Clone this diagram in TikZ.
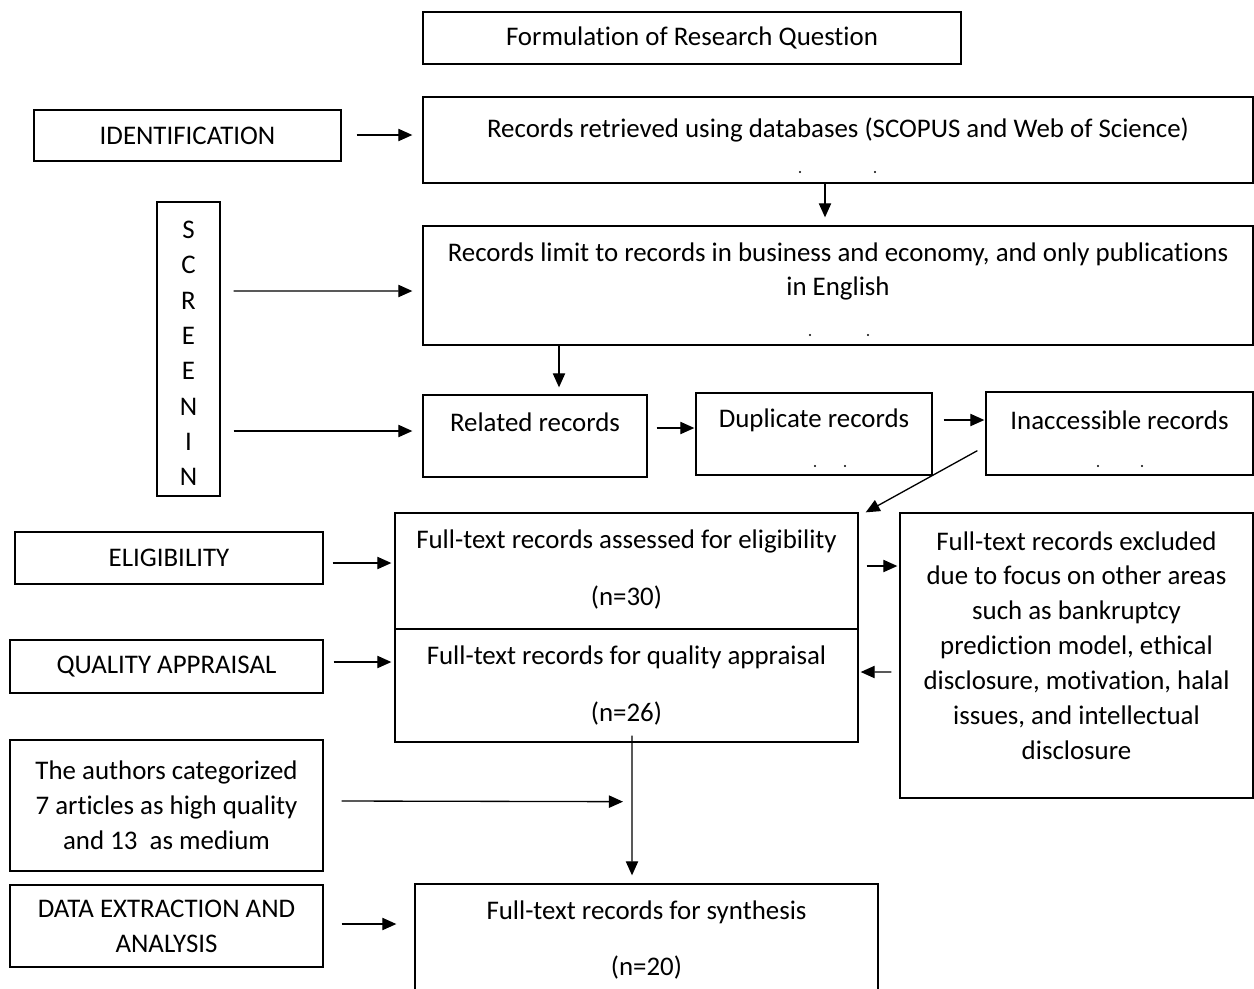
\documentclass[tikz,border=0pt]{standalone}
\usepackage{fontspec}
\setmainfont[Ligatures=NoCommon]{Carlito}
\usetikzlibrary{arrows.meta}
\usetikzlibrary{calc}
\newcommand{\pxu}{0.02cm}
\tikzset{
  stagebox/.style={draw, line width=0.75pt, inner sep=0pt},
  flowarrow/.style={line width=0.75pt, arrows={-Triangle[length=8pt,width=7pt]}},
  strayDot/.style={fill=black}
}

\begin{document}
\begin{tikzpicture}[x=\pxu, y=-\pxu, font=\fontsize{15.3}{19.85}\selectfont]
\clip (0,0) rectangle (1254,988);
% boxes
\node[stagebox, minimum width=538*\pxu, minimum height=52*\pxu] (form) at (692,38) {Formulation of Research Question};
\node[stagebox, minimum width=307*\pxu, minimum height=51*\pxu] (ident) at (187.5,135.5) {IDENTIFICATION};
\node[stagebox, minimum width=830*\pxu, minimum height=86*\pxu] (retr) at (838,140) {};
\node[stagebox, minimum width=63*\pxu, minimum height=294*\pxu] (screen) at (188.5,349) {};
\node[stagebox, minimum width=830*\pxu, minimum height=119*\pxu] (limit) at (838,285.5) {};
\node[stagebox, minimum width=224*\pxu, minimum height=82*\pxu] (related) at (535,436) {};
\node[stagebox, minimum width=236*\pxu, minimum height=82*\pxu] (dup) at (814,434) {};
\node[stagebox, minimum width=267*\pxu, minimum height=83*\pxu] (inacc) at (1119.5,433.5) {};
\node[stagebox, minimum width=463*\pxu, minimum height=116*\pxu] (elig) at (626.5,571) {};
\node[stagebox, minimum width=463*\pxu, minimum height=113*\pxu] (qual) at (626.5,685.5) {};
\node[stagebox, minimum width=308*\pxu, minimum height=52*\pxu] (eliglab) at (169,558) {ELIGIBILITY};
\node[stagebox, minimum width=313*\pxu, minimum height=53*\pxu] (quallab) at (166.5,666.5) {QUALITY APPRAISAL};
\node[stagebox, minimum width=353*\pxu, minimum height=285*\pxu] (excl) at (1076.5,655.5) {};
\node[stagebox, minimum width=313*\pxu, minimum height=131*\pxu, align=center] (auth) at (166.5,805.5)
  {The authors categorized\\7 articles as high quality\\and 13\ \ as medium};
\node[stagebox, minimum width=463*\pxu, minimum height=120*\pxu] (synth) at (646.5,944) {};
\node[stagebox, minimum width=313*\pxu, minimum height=82*\pxu, align=center] (datalab) at (166.5,926)
  {DATA EXTRACTION AND\\ANALYSIS};
% texts inside the boxes
\node (retrtxt) at (838,130) {Records retrieved using databases (SCOPUS and Web of Science)};
\node[align=center, font=\fontsize{15.3}{20.1}\selectfont] (screentxt) at (188.5,353.5) {S\\C\\R\\E\\E\\N\\I\\N};
\node[align=center] (limittxt) at (838,271.5) {Records limit to records in business and economy, and only publications\\in English};
\node (relatedtxt) at (535,422) {Related records};
\node (duptxt) at (814,420) {Duplicate records};
\node (inacctxt) at (1119.5,420) {Inaccessible records};
\node (eligtxt) at (626.5,541) {Full-text records assessed for eligibility};
\node (elign) at (626.5,598) {(n=30)};
\node (qualtxt) at (626.5,657) {Full-text records for quality appraisal};
\node (qualn) at (626.5,714) {(n=26)};
\node[align=center] (excltxt) at (1076.5,645.5) {Full-text records excluded\\due to focus on other areas\\such as bankruptcy\\prediction model, ethical\\disclosure, motivation, halal\\issues, and intellectual\\disclosure};
\node (synthtxt) at (646.5,912) {Full-text records for synthesis};
\node (synthn) at (646.5,968) {(n=20)};
% stray dots
\foreach \dx/\dy in {800/172, 875/172, 810/335, 868/335, 815/466, 845/466, 1098/466, 1142/466}
  \fill[strayDot] (\dx,\dy) circle (0.6pt);
% connectors
\draw[flowarrow] ($(ident.east)+(15,-0.5)$) -- ($(retr.west)+(-10,-5)$);
\draw[flowarrow] ($(retr.south)+(-13,0)$) -- ($(limit.north)+(-13,-8)$);
\draw[flowarrow] ($(screen.east)+(13,-58)$) -- ($(limit.west)+(-10,5.5)$);
\draw[flowarrow] ($(limit.south)+(-279,0)$) -- ($(related.north)+(24,-7)$);
\draw[flowarrow] ($(screen.east)+(13,82)$) -- ($(related.west)+(-10,-5)$);
\draw[flowarrow] ($(related.east)+(9,-8)$) -- ($(dup.west)+(-1,-6)$);
\draw[flowarrow] ($(dup.east)+(11,-14)$) -- ($(inacc.west)+(-1,-13.5)$);
\draw[flowarrow] ($(inacc.south west)+(-8,-25)$) -- ($(elig.north east)+(7,0)$);
\draw[flowarrow] ($(eliglab.east)+(9,5)$) -- ($(elig.west)+(-3,-8)$);
\draw[flowarrow] ($(quallab.east)+(10,-4.5)$) -- ($(qual.west)+(-3,-23.5)$);
\draw[flowarrow] ($(elig.east)+(8,-5)$) -- ($(excl.west)+(-2,-89.5)$);
\draw[flowarrow] ($(excl.west)+(-8,16.5)$) -- ($(qual.east)+(2,-13.5)$);
\coordinate (join) at ($(qual.south)+(5.5,59)$);
\draw[flowarrow] ($(qual.south)+(5.5,-7)$) -- ($(synth.north)+(-14.5,-8)$);
\draw[flowarrow] ($(auth.east)+(18,-4.5)$) -- ($(join)+(-9,0)$);
\draw[flowarrow] ($(datalab.east)+(18,-2)$) -- ($(synth.west)+(-18,-20)$);
\end{tikzpicture}
\end{document}
